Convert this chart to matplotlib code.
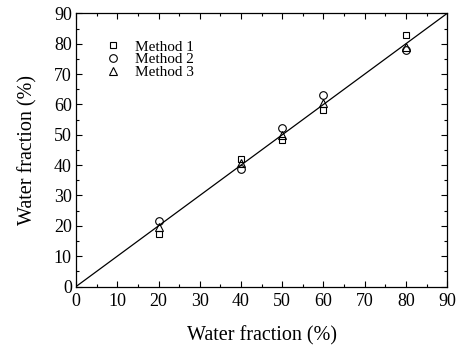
import matplotlib
matplotlib.use("Agg")
import matplotlib.pyplot as plt

x_vals = [20, 40, 50, 60, 80]
method1 = [17.4, 42.0, 48.2, 58.3, 82.8]
method2 = [21.5, 38.8, 52.2, 63.2, 77.8]
method3 = [19.6, 40.6, 49.8, 60.6, 79.0]
line_x = [0, 90]
line_y = [0, 90]
ticks = [0, 10, 20, 30, 40, 50, 60, 70, 80, 90]

plt.rcParams['font.family'] = ['Liberation Serif', 'DejaVu Serif']
fig = plt.figure(figsize=(4.61, 3.52), dpi=100)
ax = fig.add_axes([0.165, 0.186, 0.805, 0.776])

ax.plot(line_x, line_y, color='black', lw=0.9)
ms = 5
ax.plot(x_vals, method1, ls='none', marker='s', ms=ms, mfc='none', mec='black', mew=0.8, label='Method 1')
ax.plot(x_vals, method2, ls='none', marker='o', ms=ms+0.5, mfc='none', mec='black', mew=0.8, label='Method 2')
ax.plot(x_vals, method3, ls='none', marker='^', ms=ms+0.5, mfc='none', mec='black', mew=0.8, label='Method 3')

ax.set_xlim(0, 90)
ax.set_ylim(0, 90)
ax.set_xticks(ticks)
ax.set_yticks(ticks)
ax.set_xticks([t + 5 for t in ticks[:-1]], minor=True)
ax.set_yticks([t + 5 for t in ticks[:-1]], minor=True)
ax.tick_params(which='both', direction='in', top=True, right=True, labelsize=13, width=0.8)
ax.tick_params(axis='x', which='major', pad=5)
ax.tick_params(axis='y', which='major', pad=3)
ax.tick_params(which='major', length=4)
ax.tick_params(which='minor', length=2.5)
for s in ax.spines.values():
    s.set_linewidth(0.9)

ax.set_xlabel('Water fraction (%)', fontsize=14.5, labelpad=11)
ax.set_ylabel('Water fraction (%)', fontsize=14.5, labelpad=12)

ax.legend(loc='upper left', bbox_to_anchor=(0.083, 0.903), frameon=False, fontsize=11,
          handlelength=0.8, handletextpad=1.05, labelspacing=-0.06, borderpad=0, borderaxespad=0)

fig.savefig('out.png', dpi=100)
